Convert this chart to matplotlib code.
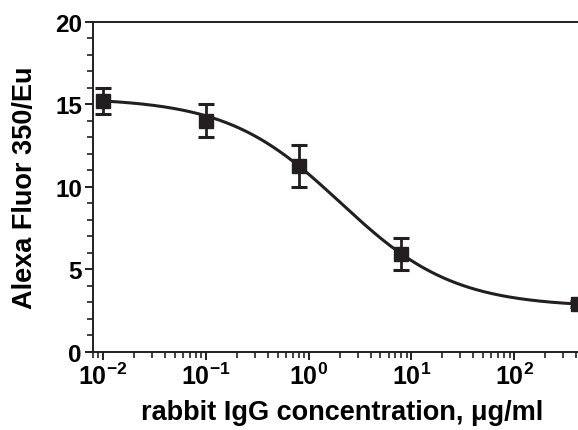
import numpy as np
import matplotlib
matplotlib.use("Agg")
from matplotlib import pyplot as plt
from matplotlib.ticker import LogLocator, FuncFormatter, MultipleLocator

plt.rcParams['font.family'] = ['Liberation Sans', 'DejaVu Sans']
plt.rcParams['font.weight'] = 'bold'
plt.rcParams['mathtext.fontset'] = 'custom'
plt.rcParams['mathtext.rm'] = 'Liberation Sans:bold'
plt.rcParams['mathtext.bf'] = 'Liberation Sans:bold'

INK = '#231f20'

# measured points (rabbit IgG, ug/ml)
conc = [0.01, 0.1, 0.81, 8.0, 415.0]
signal = [15.2, 14.0, 11.25, 5.92, 2.9]
sd = [0.8, 1.0, 1.27, 0.95, 0.2]

# four-parameter logistic fit
fit_top = 15.4
fit_bottom = 2.7
fit_ec50 = 2.03
fit_hill = 0.785


def logistic4(x):
    return fit_bottom + (fit_top - fit_bottom) / (1 + (x / fit_ec50) ** fit_hill)


fig = plt.figure(figsize=(5.78, 4.31), dpi=100)
ax = fig.add_axes([0.161, 0.1817, 0.862, 0.765])

xc = np.logspace(-2, 2.8, 300)
ax.plot(xc, logistic4(xc), color=INK, lw=2.2, zorder=2)
ax.errorbar(conc, signal, yerr=sd, fmt='s', color=INK, ms=9.5,
            elinewidth=2.0, capsize=6, capthick=2.2, zorder=3)

ax.set_xscale('log')
ax.set_xlim(10 ** -2.0973, 10 ** 2.75)
ax.set_ylim(0, 20)

ax.xaxis.set_major_locator(LogLocator(base=10, numticks=10))
ax.xaxis.set_minor_locator(LogLocator(base=10, subs=np.arange(2, 10), numticks=10))
ax.xaxis.set_major_formatter(FuncFormatter(lambda v, p: r'$10^{%d}$' % round(np.log10(v))))
ax.yaxis.set_major_locator(MultipleLocator(5))
ax.yaxis.set_minor_locator(MultipleLocator(1))

for side in ['left', 'bottom', 'top']:
    ax.spines[side].set_linewidth(1.4)
    ax.spines[side].set_color(INK)
ax.spines['right'].set_visible(False)

ax.tick_params(which='major', direction='out', length=6, width=1.4, color=INK,
               labelsize=17.5, pad=2)
ax.tick_params(which='minor', direction='out', length=4, width=1.2, color=INK)
ax.tick_params(axis='x', which='major', labelsize=18, pad=2)

ax.set_xlabel('rabbit IgG concentration, \u03bcg/ml', fontsize=19.5, fontweight='bold', labelpad=7)
ax.set_ylabel('Alexa Fluor 350/Eu', fontsize=19.5, fontweight='bold', labelpad=12)

fig.savefig('out.png', dpi=100)
